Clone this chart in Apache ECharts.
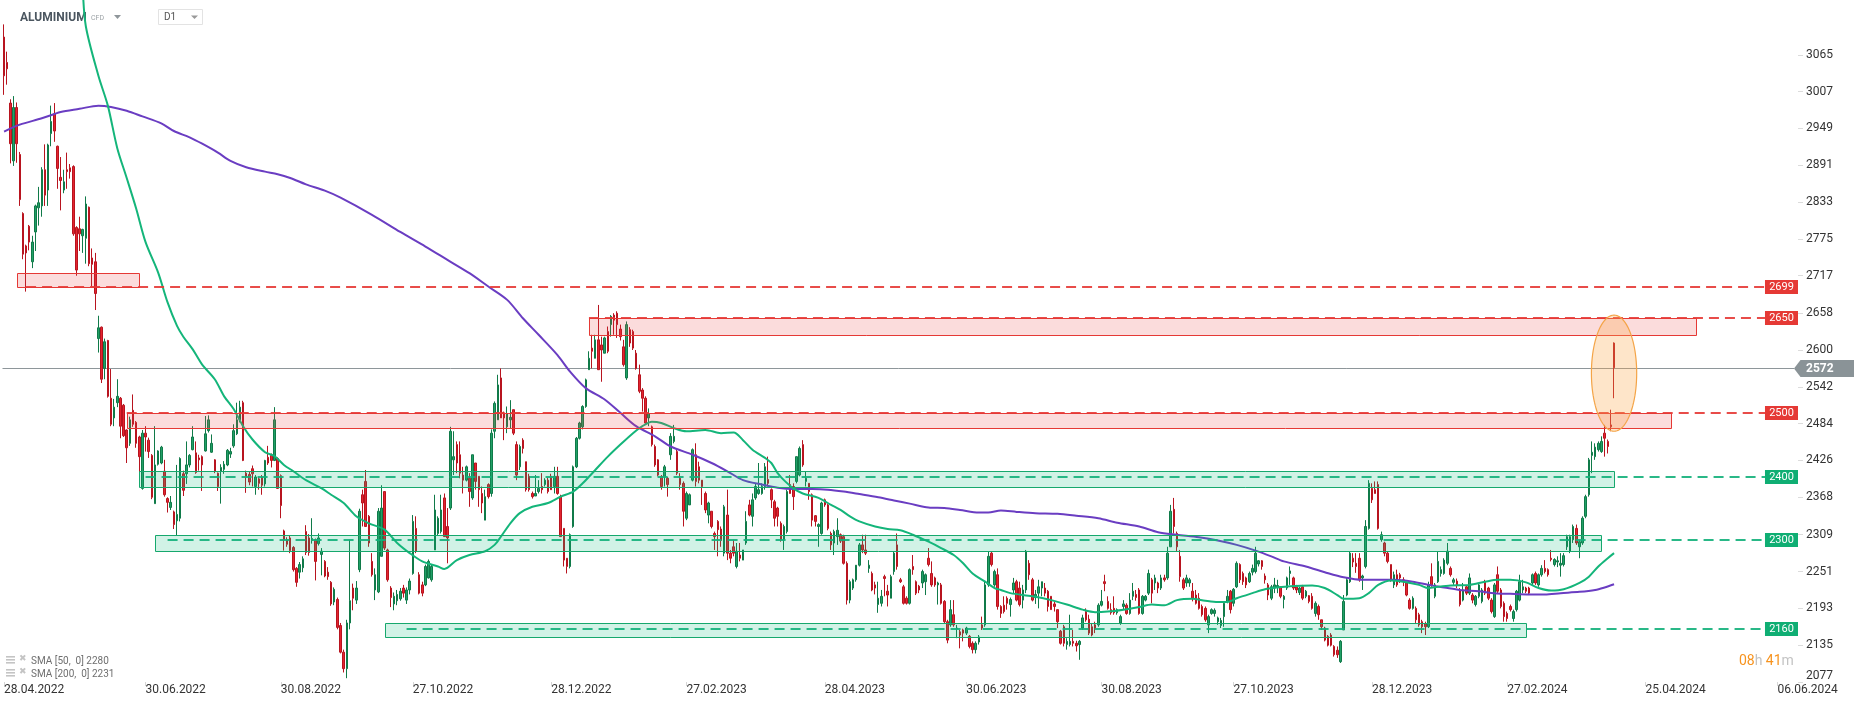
<!DOCTYPE html>
<html><head><meta charset="utf-8">
<script src="https://cdn.jsdelivr.net/npm/echarts@6/dist/echarts.min.js"></script>
<style>html,body{margin:0;padding:0;background:#fff}#c{width:1866px;height:707px}</style>
</head><body><div id="c"></div>
<script>
// ---------------- DATA ----------------
const FIRST_DATE = '2022-04-28';
const FUTURE_DAYS = 58;
const xTickLabels = ['28.04.2022','30.06.2022','30.08.2022','27.10.2022','28.12.2022','27.02.2023','28.04.2023','30.06.2023','30.08.2023','27.10.2023','28.12.2023','27.02.2024','25.04.2024','06.06.2024'];
const yTickLabels = [2077,2135,2193,2251,2309,2368,2426,2484,2542,2600,2658,2717,2775,2833,2891,2949,3007,3065];
// daily candles [open, close, low, high]
const ohlc = [
[3093,3032,3002,3113],[3053,3043,3018,3070],[2989,2925,2894,2995],[2898,2982,2890,3000],[2982,2925,2895,2990],[2908,2837,2827,2912],[2815,2751,2743,2817],[2764,2753,2692,2766],[2795,2770,2757,2797],[2739,2770,2729,2780],
[2786,2827,2756,2829],[2824,2832,2796,2857],[2827,2884,2810,2888],[2884,2844,2827,2924],[2852,2923,2827,2925],[2941,2960,2921,2985],[2972,2945,2928,2989],[2921,2886,2854,2922],[2872,2867,2820,2904],[2852,2865,2847,2884],
[2884,2881,2854,2911],[2887,2881,2870,2893],[2889,2783,2780,2891],[2793,2726,2717,2795],[2791,2783,2756,2810],[2780,2790,2753,2791],[2776,2830,2736,2842],[2825,2736,2732,2826],[2745,2735,2700,2760],[2739,2689,2663,2753],
[2618,2635,2596,2654],[2636,2554,2548,2637],[2571,2613,2554,2618],[2615,2527,2525,2616],[2524,2483,2480,2570],[2493,2510,2480,2523],[2517,2527,2510,2554],[2524,2480,2461,2526],[2513,2465,2463,2515],[2474,2446,2422,2475],
[2453,2490,2449,2495],[2505,2483,2479,2530],[2486,2453,2446,2488],[2463,2432,2407,2465],[2382,2469,2380,2474],[2469,2463,2440,2480],[2458,2440,2430,2462],[2434,2368,2365,2436],[2358,2419,2358,2480],[2420,2441,2418,2442],
[2422,2447,2420,2449],[2409,2372,2369,2427],[2366,2360,2344,2368],[2352,2360,2348,2370],[2345,2325,2318,2347],[2331,2341,2308,2419],[2335,2429,2330,2431],[2405,2379,2370,2410],[2405,2419,2389,2456],[2419,2434,2415,2436],
[2443,2463,2442,2480],[2438,2407,2405,2456],[2430,2427,2410,2435],[2432,2419,2378,2434],[2441,2468,2440,2496],[2473,2490,2470,2497],[2439,2453,2438,2467],[2427,2409,2406,2428],[2406,2385,2378,2407],[2409,2415,2358,2420],
[2412,2420,2405,2425],[2419,2442,2417,2444],[2436,2440,2430,2446],[2449,2473,2446,2483],[2468,2490,2466,2517],[2490,2510,2486,2520],[2517,2426,2425,2520],[2406,2401,2375,2410],[2404,2392,2387,2408],[2413,2405,2385,2418],
[2385,2400,2372,2403],[2397,2390,2380,2400],[2400,2387,2372,2403],[2389,2426,2385,2427],[2431,2422,2419,2449],[2434,2426,2415,2437],[2426,2490,2425,2510],[2429,2382,2381,2431],[2402,2355,2335,2404],[2315,2301,2284,2317],
[2301,2294,2290,2305],[2304,2284,2280,2307],[2289,2254,2251,2291],[2256,2234,2227,2258],[2250,2262,2240,2266],[2257,2271,2250,2275],[2314,2281,2277,2324],[2304,2281,2276,2310],[2300,2303,2295,2335],[2301,2267,2237,2303],
[2295,2304,2292,2311],[2278,2283,2245,2288],[2267,2244,2242,2269],[2250,2243,2238,2258],[2234,2200,2197,2236],[2203,2223,2198,2226],[2207,2163,2160,2210],[2166,2124,2122,2170],[2124,2098,2092,2128],[2098,2170,2083,2175],
[2170,2205,2160,2301],[2225,2209,2190,2232],[2206,2225,2200,2236],[2254,2346,2250,2350],[2372,2359,2322,2380],[2393,2322,2322,2411],[2338,2296,2290,2340],[2267,2246,2243,2280],[2222,2246,2206,2256],[2219,2346,2217,2351],
[2275,2351,2275,2387],[2377,2288,2285,2377],[2285,2238,2235,2287],[2225,2210,2195,2228],[2200,2212,2190,2218],[2205,2215,2198,2222],[2208,2220,2205,2225],[2225,2217,2210,2230],[2206,2222,2200,2226],[2222,2236,2215,2240],
[2248,2330,2246,2340],[2319,2283,2280,2338],[2246,2217,2215,2250],[2230,2217,2212,2235],[2230,2259,2228,2262],[2241,2267,2240,2270],[2238,2259,2235,2262],[2285,2348,2285,2372],[2311,2335,2308,2338],[2314,2348,2311,2372],
[2367,2306,2306,2374],[2322,2304,2264,2351],[2351,2472,2348,2479],[2427,2432,2403,2472],[2451,2422,2406,2456],[2435,2406,2398,2456],[2403,2395,2374,2416],[2395,2416,2393,2418],[2398,2377,2353,2406],[2367,2435,2364,2435],
[2422,2393,2380,2422],[2401,2380,2353,2401],[2374,2359,2343,2385],[2332,2369,2332,2380],[2388,2369,2366,2390],[2374,2469,2369,2475],[2472,2516,2461,2519],[2490,2545,2490,2561],[2556,2493,2493,2571],[2500,2493,2458,2503],
[2479,2500,2469,2511],[2490,2494,2477,2521],[2506,2469,2466,2506],[2451,2403,2395,2456],[2416,2448,2411,2451],[2458,2445,2437,2461],[2424,2380,2377,2424],[2401,2380,2377,2405],[2374,2369,2366,2377],[2370,2374,2370,2403],
[2377,2382,2374,2395],[2385,2380,2374,2406],[2388,2395,2385,2398],[2395,2377,2374,2399],[2401,2380,2380,2405],[2385,2401,2374,2416],[2401,2374,2372,2416],[2369,2306,2306,2372],[2319,2269,2259,2319],[2272,2259,2248,2272],
[2259,2309,2256,2311],[2322,2416,2320,2418],[2416,2461,2414,2463],[2461,2485,2459,2487],[2479,2511,2475,2513],[2511,2553,2509,2555],[2569,2587,2569,2598],[2603,2598,2571,2624],[2587,2616,2587,2624],[2616,2569,2569,2671],
[2608,2600,2550,2621],[2595,2619,2595,2621],[2629,2598,2595,2637],[2640,2653,2621,2655],[2655,2647,2624,2658],[2658,2640,2619,2661],[2633,2621,2615,2640],[2605,2577,2574,2616],[2556,2640,2553,2645],[2632,2611,2605,2636],
[2629,2603,2600,2632],[2595,2571,2569,2600],[2561,2535,2532,2577],[2537,2524,2503,2540],[2524,2485,2482,2527],[2493,2500,2480,2508],[2479,2451,2448,2481],[2448,2419,2416,2451],[2427,2403,2401,2428],[2401,2385,2380,2403],
[2401,2416,2385,2419],[2398,2388,2369,2400],[2435,2464,2427,2469],[2456,2464,2453,2482],[2440,2406,2403,2443],[2398,2388,2380,2406],[2390,2346,2322,2393],[2335,2374,2332,2377],[2356,2372,2356,2374],[2395,2443,2393,2445],
[2435,2393,2385,2453],[2416,2395,2390,2424],[2395,2385,2356,2395],[2374,2348,2343,2377],[2340,2359,2327,2361],[2346,2322,2319,2346],[2311,2306,2285,2314],[2330,2317,2275,2332],[2318,2300,2290,2322],[2280,2353,2275,2356],
[2340,2280,2269,2380],[2280,2272,2264,2285],[2290,2280,2275,2301],[2259,2283,2256,2296],[2277,2272,2267,2296],[2269,2285,2269,2285],[2296,2330,2293,2346],[2356,2340,2338,2364],[2338,2364,2322,2374],[2367,2385,2364,2390],
[2374,2380,2372,2422],[2374,2385,2372,2390],[2385,2416,2380,2422],[2396,2390,2385,2432],[2380,2364,2351,2382],[2361,2335,2322,2364],[2351,2338,2322,2353],[2327,2301,2298,2330],[2301,2322,2285,2325],[2314,2377,2311,2380],
[2388,2374,2374,2403],[2385,2369,2348,2390],[2393,2432,2390,2432],[2403,2445,2401,2448],[2451,2419,2416,2458],[2393,2398,2385,2408],[2390,2377,2364,2390],[2372,2332,2322,2374],[2339,2330,2322,2340],[2322,2325,2290,2327],
[2311,2359,2309,2361],[2364,2356,2353,2366],[2356,2319,2316,2358],[2311,2293,2285,2314],[2296,2314,2277,2317],[2306,2316,2293,2335],[2309,2299,2296,2311],[2306,2264,2262,2309],[2264,2206,2199,2267],[2206,2235,2201,2238],
[2225,2238,2222,2240],[2238,2261,2235,2261],[2261,2293,2259,2296],[2293,2285,2280,2309],[2285,2280,2277,2309],[2256,2261,2249,2269],[2248,2222,2220,2251],[2230,2225,2215,2235],[2199,2209,2186,2235],[2201,2212,2196,2222],
[2243,2240,2212,2246],[2220,2214,2196,2230],[2209,2243,2209,2246],[2251,2280,2246,2283],[2293,2259,2254,2311],[2238,2235,2233,2241],[2227,2201,2199,2230],[2209,2201,2199,2212],[2201,2254,2199,2256],[2259,2254,2246,2277],
[2235,2217,2214,2237],[2228,2222,2217,2230],[2233,2251,2225,2254],[2235,2246,2214,2248],[2272,2262,2259,2288],[2248,2230,2227,2267],[2241,2230,2227,2243],[2230,2233,2199,2235],[2230,2201,2199,2233],[2204,2172,2170,2206],
[2172,2143,2138,2175],[2167,2191,2164,2206],[2183,2167,2164,2206],[2161,2162,2146,2167],[2156,2151,2130,2159],[2159,2154,2141,2161],[2154,2162,2151,2164],[2149,2133,2130,2151],[2138,2128,2122,2141],[2128,2138,2122,2141],
[2140,2148,2136,2151],[2167,2162,2159,2180],[2167,2230,2164,2235],[2230,2275,2227,2283],[2280,2262,2259,2282],[2230,2251,2227,2254],
[2246,2196,2191,2256],[2196,2185,2178,2198],[2198,2188,2185,2212],[2209,2201,2191,2212],[2199,2207,2180,2210],[2222,2233,2217,2241],[2235,2206,2204,2238],[2225,2199,2196,2235],[2206,2222,2193,2230],[2222,2283,2217,2285],
[2264,2246,2238,2269],[2238,2206,2204,2241],[2210,2215,2200,2222],[2217,2227,2193,2238],[2225,2235,2212,2235],[2225,2217,2212,2233],[2220,2196,2188,2222],[2212,2191,2191,2212],[2200,2196,2188,2204],[2191,2172,2162,2191],
[2157,2138,2136,2159],[2164,2138,2133,2167],[2136,2141,2128,2146],[2136,2141,2133,2183],[2141,2138,2133,2159],[2138,2134,2125,2142],[2136,2141,2112,2143],[2162,2178,2159,2183],[2188,2175,2172,2193],[2176,2154,2151,2183],
[2164,2151,2149,2170],[2167,2162,2154,2172],[2167,2198,2164,2201],[2198,2204,2196,2222],[2235,2232,2220,2246],[2204,2193,2191,2212],[2191,2186,2183,2201],[2193,2186,2183,2212],[2186,2191,2183,2193],[2170,2180,2167,2183],
[2196,2200,2191,2206],[2198,2185,2183,2201],[2185,2206,2183,2217],[2212,2220,2206,2233],[2215,2210,2205,2222],[2222,2185,2183,2225],[2185,2212,2183,2214],[2206,2212,2204,2214],[2217,2248,2214,2254],[2238,2217,2201,2241],
[2233,2241,2222,2246],[2233,2225,2217,2235],[2225,2241,2222,2246],[2241,2238,2235,2246],[2241,2280,2238,2290],[2290,2346,2290,2356],[2349,2322,2311,2367],[2311,2290,2283,2314],[2275,2243,2235,2285],[2238,2225,2222,2241],
[2233,2241,2227,2246],[2233,2238,2227,2241],[2220,2209,2204,2233],[2214,2201,2199,2222],[2209,2193,2191,2217],[2196,2183,2180,2199],[2193,2175,2172,2196],[2167,2180,2154,2183],[2185,2191,2183,2193],[2185,2190,2180,2193],
[2172,2178,2167,2180],[2166,2174,2162,2178],[2180,2201,2164,2204],[2204,2212,2201,2222],[2220,2191,2185,2222],[2201,2223,2196,2225],[2227,2264,2225,2267],[2262,2238,2233,2264],[2248,2235,2230,2251],[2241,2230,2225,2243],
[2235,2248,2233,2251],[2250,2256,2245,2262],[2251,2280,2248,2290],[2263,2268,2259,2269],[2268,2259,2254,2269],[2244,2238,2232,2248],[2230,2214,2206,2233],[2209,2227,2206,2230],[2225,2230,2217,2241],[2226,2229,2217,2238],
[2227,2212,2209,2227],[2207,2212,2193,2214],[2225,2241,2222,2243],[2248,2252,2230,2259],[2241,2225,2222,2243],[2227,2222,2217,2230],[2218,2225,2214,2227],[2227,2209,2206,2230],[2212,2220,2209,2222],[2213,2204,2201,2214],
[2212,2193,2191,2217],[2185,2201,2180,2204],[2196,2183,2175,2199],[2175,2164,2159,2175],[2162,2143,2141,2164],[2149,2135,2133,2151],[2151,2135,2133,2154],[2133,2120,2117,2135],[2127,2120,2115,2133],[2109,2141,2107,2143],
[2159,2204,2159,2214],[2214,2238,2212,2241],[2235,2280,2233,2282],[2272,2266,2258,2280],[2264,2259,2249,2280],[2272,2238,2235,2280],[2241,2244,2222,2246],[2259,2322,2256,2332],[2319,2390,2317,2395],[2382,2364,2359,2390],
[2380,2374,2374,2393],[2388,2319,2317,2393],[2301,2309,2298,2314],[2296,2280,2275,2298],[2280,2267,2264,2282],[2262,2238,2235,2262],[2230,2246,2225,2251],[2246,2230,2227,2254],[2246,2241,2233,2249],[2238,2235,2228,2242],
[2233,2214,2212,2235],[2206,2193,2191,2209],[2193,2209,2191,2212],[2193,2175,2170,2196],[2183,2167,2164,2186],[2172,2164,2154,2175],[2169,2164,2151,2172],[2164,2230,2162,2235],[2243,2230,2227,2264],[2212,2230,2209,2233],
[2235,2267,2233,2283],[2248,2254,2243,2259],[2248,2269,2246,2272],[2264,2283,2261,2296],[2256,2246,2243,2259],[2234,2238,2230,2241],[2236,2230,2225,2240],[2222,2199,2196,2225],[2206,2222,2204,2233],[2227,2217,2214,2230],
[2217,2241,2214,2248],[2214,2206,2201,2217],[2199,2212,2196,2214],[2212,2230,2209,2233],[2204,2222,2201,2225],[2235,2217,2214,2238],[2225,2209,2206,2227],[2206,2188,2185,2209],[2180,2230,2178,2233],[2246,2220,2217,2259],
[2222,2196,2193,2225],[2201,2180,2172,2204],[2185,2177,2172,2188],[2196,2191,2188,2199],[2177,2188,2172,2191],[2191,2220,2188,2222],[2206,2235,2204,2246],[2222,2227,2217,2238],[2225,2220,2217,2227],[2225,2217,2214,2227],
[2233,2246,2230,2248],[2248,2233,2230,2251],[2230,2246,2227,2248],[2246,2256,2243,2261],[2256,2251,2248,2269],[2254,2246,2243,2256],[2272,2270,2267,2285],[2262,2270,2259,2272],[2266,2268,2258,2275],[2261,2264,2243,2280],
[2262,2276,2259,2280],[2290,2306,2285,2309],[2283,2306,2280,2309],[2301,2322,2296,2325],[2319,2296,2293,2325],[2290,2298,2272,2301],[2296,2335,2293,2338],[2338,2369,2335,2372],[2372,2427,2369,2430],[2434,2439,2406,2456],
[2432,2447,2427,2453],[2443,2453,2440,2456],[2440,2456,2438,2464],[2469,2461,2432,2482],[2456,2448,2437,2459],[2482,2479,2472,2506],[2611,2572,2524,2612]
];
// moving averages: [bar index, value]
const sma50 = [[25,3175],[26,3110],[30,3032],[33,2985],[36,2918],[39,2871],[42,2823],[45,2770],[49,2722],[52,2675],[55,2638],[57,2621],[60,2601],[63,2577],[67,2554],[70,2527],[73,2507],[76,2480],[79,2459],[83,2439],[86,2433],[89,2419],[92,2409],[96,2395],[101,2382],[104,2372],[108,2359],[112,2338],[116,2327],[121,2317],[125,2296],[129,2280],[133,2267],[138,2259],[140,2255],[144,2269],[148,2277],[153,2283],[156,2293],[158,2306],[161,2327],[164,2343],[168,2353],[173,2359],[177,2369],[181,2377],[184,2390],[188,2411],[192,2432],[196,2451],[200,2469],[203,2480],[206,2487],[209,2485],[213,2477],[217,2472],[223,2474],[228,2469],[232,2470],[235,2458],[238,2443],[242,2430],[244,2422],[246,2406],[248,2395],[251,2382],[254,2374],[259,2367],[263,2356],[266,2348],[269,2338],[272,2330],[277,2322],[281,2318],[285,2316],[289,2309],[294,2298],[298,2288],[302,2277],[305,2264],[308,2248],[312,2235],[315,2225],[317,2222],[320,2217],[327,2212],[333,2206],[338,2199],[343,2191],[347,2187],[351,2188],[356,2191],[361,2195],[365,2199],[369,2198],[373,2206],[378,2208],[382,2205],[386,2203],[389,2203],[392,2209],[397,2217],[401,2223],[405,2226],[409,2228],[416,2229],[420,2225],[424,2214],[426,2208],[431,2209],[434,2217],[437,2230],[441,2237],[445,2235],[450,2230],[453,2225],[456,2227],[460,2229],[466,2230],[471,2235],[475,2238],[479,2238],[484,2234],[488,2225],[492,2221],[496,2223],[501,2233],[504,2243],[507,2259],[510,2272],[512,2280]];
const sma200 = [[0,2944],[5,2955],[12,2965],[18,2975],[24,2980],[30,2985],[34,2983],[39,2977],[44,2968],[50,2957],[54,2945],[59,2935],[63,2925],[68,2911],[72,2898],[77,2888],[83,2881],[87,2877],[91,2871],[96,2861],[102,2851],[107,2840],[117,2813],[126,2786],[134,2763],[141,2742],[148,2721],[154,2700],[160,2679],[165,2650],[170,2624],[176,2592],[180,2566],[185,2540],[191,2522],[196,2501],[201,2480],[207,2464],[212,2448],[219,2435],[225,2422],[230,2409],[235,2395],[241,2388],[246,2383],[251,2381],[257,2381],[262,2380],[267,2377],[272,2373],[278,2368],[283,2363],[288,2358],[294,2352],[299,2351],[304,2348],[310,2344],[313,2344],[317,2347],[322,2345],[328,2343],[335,2342],[341,2339],[348,2335],[354,2328],[361,2322],[367,2313],[373,2309],[380,2305],[386,2300],[392,2293],[398,2284],[403,2275],[407,2267],[414,2259],[420,2250],[426,2242],[432,2238],[437,2238],[442,2238],[448,2235],[453,2230],[458,2226],[463,2222],[469,2220],[474,2217],[479,2216],[485,2215],[490,2215],[495,2217],[501,2219],[506,2222],[509,2226],[512,2231]];
const smaLegend = [['SMA [50,  0]', 2280], ['SMA [200,  0]', 2231]];
// horizontal levels: [value, first bar, kind] (1 = resistance, 0 = support)
const levels = [[2699,7,1],[2650,186,1],[2500,39,1],[2400,45,0],[2300,52,0],[2160,128,0]];
// zones: [first bar, last bar, low, high, kind]
const zones = [[4,43,2699,2722,1],[186,538,2624,2650,1],[39,530,2477,2500,1],[43,512,2384,2409,0],[48,508,2283,2308,0],[121,484,2148,2170,0]];
const LEVEL_END_BAR = 560;
const highlight = [[512, 2472, 2655, 7.2]];
const timerText = ['08', 'h', '41', 'm'];

// -------------- CATEGORIES --------------
function fmt(d){return String(d.getUTCDate()).padStart(2,'0')+'.'+String(d.getUTCMonth()+1).padStart(2,'0')+'.'+d.getUTCFullYear();}
const categories = [];
let dd = new Date(FIRST_DATE + 'T00:00:00Z');
while (categories.length < ohlc.length) { const w = dd.getUTCDay(); if (w !== 0 && w !== 6) categories.push(fmt(dd)); dd.setUTCDate(dd.getUTCDate()+1); }
for (let k = 0; k < FUTURE_DAYS; k++) { categories.push(fmt(dd)); dd.setUTCDate(dd.getUTCDate()+1); }
const xTickSet = new Set(xTickLabels);
const lastClose = ohlc[ohlc.length-1][1];

const FONT = 'Roboto, "Noto Sans", sans-serif';
const RED = '#e53935', GREEN = '#12b07a';

const chart = echarts.init(document.getElementById('c'), null, {renderer:'canvas'});
chart.setOption({
  animation: false,
  backgroundColor: '#fff',
  grid: {left: 2.5, right: 68, top: 0, bottom: 25},
  xAxis: {
    type: 'category', data: categories, boundaryGap: true,
    axisLine: {show: false},
    axisTick: {show: true, alignWithLabel: true, interval: (i, v) => xTickSet.has(v), length: 4, lineStyle: {color: '#d6d6d6'}},
    axisLabel: {interval: (i, v) => xTickSet.has(v), align: 'left', color: '#333', fontSize: 12, margin: 2, fontFamily: FONT},
    splitLine: {show: false}
  },
  yAxis: {
    type: 'value', position: 'right', min: 2077, max: 3151.4,
    splitLine: {show: false}, axisLine: {show: false},
    axisTick: {show: true, customValues: yTickLabels, length: 5, lineStyle: {color: '#dcdcdc'}},
    axisLabel: {customValues: yTickLabels, formatter: v => String(Math.round(v)), color: '#333', fontSize: 12, margin: 8, fontFamily: FONT, verticalAlignMinLabel: 'bottom'}
  },
  series: [
    { // current price line + tag
      type: 'custom', z: 1, silent: true, data: [[lastClose]], encode: {y: 0},
      renderItem(params, api) {
        const cs = params.coordSys;
        const y = Math.round(api.coord([0, api.value(0)])[1]) + 0.5;
        const right = cs.x + cs.width;
        const tip = right - 4;
        return {type: 'group', children: [
          {type: 'line', shape: {x1: cs.x, y1: y, x2: tip, y2: y}, style: {stroke: '#8e969a', lineWidth: 1}},
          {type: 'polygon', shape: {points: [[tip, y], [tip+6.5, y-8.5], [tip+60, y-8.5], [tip+60, y+8.5], [tip+6.5, y+8.5]]}, style: {fill: '#8a9397'}},
          {type: 'text', style: {x: tip+12, y: y, text: String(api.value(0)), fill: '#fff', font: 'bold 12px ' + FONT, verticalAlign: 'middle', align: 'left'}}
        ]};
      }
    },
    {
      type: 'candlestick', data: ohlc, barWidth: 2, z: 2, silent: true,
      itemStyle: {color: '#21a067', color0: '#e3242f', borderColor: '#107a49', borderColor0: '#b8141f', borderWidth: 1}
    },
    {type: 'line', data: sma200, smooth: 0.3, showSymbol: false, silent: true, z: 3, lineStyle: {color: '#6a3dc2', width: 2}},
    {type: 'line', data: sma50, smooth: 0.3, showSymbol: false, silent: true, z: 3, lineStyle: {color: '#14b57a', width: 2}},
    { // zones
      type: 'custom', z: 4, silent: true, data: zones, encode: {x: [0, 1], y: [2, 3]},
      renderItem(params, api) {
        const a = api.coord([api.value(0), api.value(3)]);
        const b = api.coord([api.value(1), api.value(2)]);
        const res = api.value(4) === 1;
        const x0 = Math.round(a[0]) + 0.5, y0 = Math.round(a[1]) + 0.5;
        return {type: 'rect', shape: {x: x0, y: y0, width: Math.round(b[0]) + 0.5 - x0, height: Math.round(b[1]) + 0.5 - y0},
          style: {fill: res ? 'rgba(236,70,70,0.19)' : 'rgba(24,190,128,0.20)', stroke: res ? RED : '#16a86d', lineWidth: 1}};
      }
    },
    { // dashed levels + tags
      type: 'custom', z: 5, silent: true, data: levels, encode: {x: 1, y: 0},
      renderItem(params, api) {
        const cs = params.coordSys;
        const v = api.value(0);
        const p0 = api.coord([api.value(1), v]);
        const p1 = api.coord([LEVEL_END_BAR, v]);
        const res = api.value(2) === 1;
        const right = cs.x + cs.width;
        const y = Math.round(p0[1]);
        return {type: 'group', children: [
          {type: 'line', shape: {x1: p0[0], y1: y, x2: p1[0], y2: y}, style: {stroke: res ? 'rgba(229,57,53,0.9)' : 'rgba(18,176,122,0.9)', lineWidth: 2, lineDash: [10, 6]}},
          {type: 'rect', shape: {x: p1[0], y: y - 7, width: right - p1[0], height: 14}, style: {fill: res ? '#e53935' : '#0fae73'}},
          {type: 'text', style: {x: (p1[0] + right) / 2, y: y + 0.5, text: String(v), fill: '#fff', font: '11px ' + FONT, align: 'center', verticalAlign: 'middle'}}
        ]};
      }
    },
    { // highlight ellipse
      type: 'custom', z: 6, silent: true, data: highlight, encode: {x: 0, y: [1, 2]},
      renderItem(params, api) {
        const top = api.coord([api.value(0), api.value(2)]);
        const bot = api.coord([api.value(0), api.value(1)]);
        const cx = top[0], cy = (top[1] + bot[1]) / 2, ry = (bot[1] - top[1]) / 2;
        const rx = api.value(3) * api.size([1, 0])[0];
        const pts = [];
        for (let k = 0; k < 96; k++) { const t = k / 96 * Math.PI * 2; pts.push([cx + rx * Math.cos(t), cy + ry * Math.sin(t)]); }
        return {type: 'polygon', shape: {points: pts}, style: {fill: 'rgba(252,168,76,0.30)', stroke: '#f4a447', lineWidth: 1.2}};
      }
    }
  ],
  graphic: [
    {type: 'text', left: 20, top: 12, style: {text: 'ALUMINIUM', font: 'bold 12px ' + FONT, fill: '#4b5660'}},
    {type: 'text', left: 91, top: 15, style: {text: 'CFD', font: '7px ' + FONT, fill: '#9ca2a6'}},
    {type: 'polygon', shape: {points: [[114, 15], [121, 15], [117.5, 19]]}, style: {fill: '#8f969a'}},
    {type: 'rect', shape: {x: 158.5, y: 9.5, width: 44, height: 15}, style: {fill: '#fff', stroke: '#e3e3e3', lineWidth: 1}},
    {type: 'text', left: 164, top: 12, style: {text: 'D1', font: '10px ' + FONT, fill: '#555'}},
    {type: 'polygon', shape: {points: [[191, 15.5], [198, 15.5], [194.5, 19]]}, style: {fill: '#999'}},
    {type: 'rect', shape: {x: 6, y: 656, width: 9, height: 1.6}, style: {fill: '#c4c4c4'}},
    {type: 'rect', shape: {x: 6, y: 659, width: 9, height: 1.6}, style: {fill: '#c4c4c4'}},
    {type: 'rect', shape: {x: 6, y: 662, width: 9, height: 1.6}, style: {fill: '#c4c4c4'}},
    {type: 'text', left: 19, top: 654, style: {text: '✖', font: '9px ' + FONT, fill: '#c4c4c4'}},
    {type: 'text', left: 31, top: 656, style: {text: smaLegend[0][0] + ' ' + smaLegend[0][1], font: '10px ' + FONT, fill: '#6f6f6f'}},
    {type: 'rect', shape: {x: 6, y: 669, width: 9, height: 1.6}, style: {fill: '#c4c4c4'}},
    {type: 'rect', shape: {x: 6, y: 672, width: 9, height: 1.6}, style: {fill: '#c4c4c4'}},
    {type: 'rect', shape: {x: 6, y: 675, width: 9, height: 1.6}, style: {fill: '#c4c4c4'}},
    {type: 'text', left: 19, top: 667, style: {text: '✖', font: '9px ' + FONT, fill: '#c4c4c4'}},
    {type: 'text', left: 31, top: 669, style: {text: smaLegend[1][0] + ' ' + smaLegend[1][1], font: '10px ' + FONT, fill: '#6f6f6f'}},
    {type: 'text', left: 1739, top: 654, style: {text: '{a|' + timerText[0] + '}{b|' + timerText[1] + '} {a|' + timerText[2] + '}{b|' + timerText[3] + '}',
      rich: {a: {fill: '#f7931e', font: '14px ' + FONT}, b: {fill: '#c3c3c3', font: '14px ' + FONT}}}}
  ]
});
</script>
</body></html>
